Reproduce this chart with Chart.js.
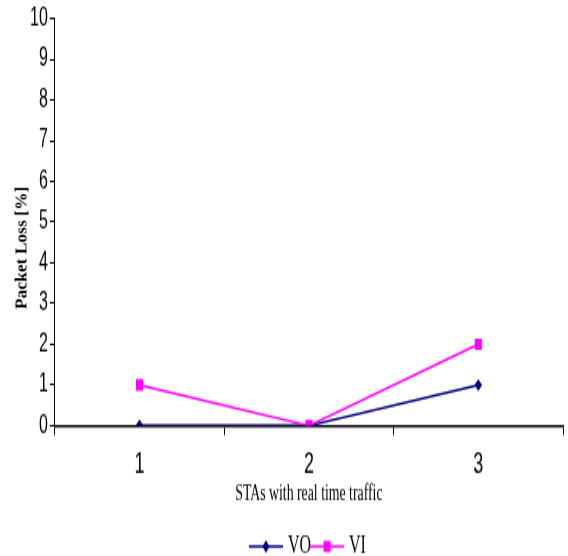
<!DOCTYPE html>
<html>
<head>
<meta charset="utf-8">
<script src="https://cdn.jsdelivr.net/npm/chart.js@4"></script>
<style>
body { margin: 0; background: #fff; }
#wrap { position: relative; width: 568px; height: 556px; overflow: hidden; }
/* the original figure is stretched vertically, so draw at a lower height and scale up */
#stretch { position: absolute; left: 0; top: 0; width: 568px; height: 348px; transform: scaleY(1.5977); transform-origin: 0 0; }
#ytitle { position: absolute; left: 21px; top: 248px; transform: translate(-50%, -50%) rotate(-90deg);
  font: bold 17.5px 'Liberation Serif', 'Times New Roman', serif; white-space: nowrap; color: #000; }
</style>
</head>
<body>
<div id="wrap">
  <div id="stretch"><canvas id="myChart"></canvas></div>
  <div id="ytitle">Packet Loss [%]</div>
</div>
<script>
const categories = ['1', '2', '3'];
const voValues = [0, 0, 1];
const viValues = [1, 0, 2];
const yMin = 0;
const yMax = 10;
const yStep = 1;

const navy = '#000080';
const magenta = '#FF00FF';

// little line + marker icons for the legend
function legendIcon(color, shape) {
    const c = document.createElement('canvas');
    c.width = 34;
    c.height = 12;
    const g = c.getContext('2d');
    g.strokeStyle = color;
    g.lineWidth = 1.5;
    g.beginPath();
    g.moveTo(0, 6);
    g.lineTo(34, 6);
    g.stroke();
    g.fillStyle = color;
    if (shape == 'diamond') {
        g.beginPath();
        g.moveTo(17, 2);
        g.lineTo(20.5, 6);
        g.lineTo(17, 10);
        g.lineTo(13.5, 6);
        g.closePath();
        g.fill();
    } else {
        g.fillRect(13.5, 2.5, 7, 7);
    }
    return c;
}

const ctx = document.getElementById('myChart');
new Chart(ctx, {
    type: 'line',
    data: {
        labels: categories,
        datasets: [
            {
                label: 'VO',
                data: voValues,
                borderColor: navy,
                backgroundColor: navy,
                borderWidth: 1.5,
                pointStyle: 'rectRot',
                pointRadius: 3.75,
                pointBorderWidth: 0,
                tension: 0,
                order: 0
            },
            {
                label: 'VI',
                data: viValues,
                borderColor: magenta,
                backgroundColor: magenta,
                borderWidth: 1.5,
                pointStyle: 'rect',
                pointRadius: 5,
                pointBorderWidth: 0,
                tension: 0,
                order: -1
            }
        ]
    },
    options: {
        responsive: true,
        maintainAspectRatio: false,
        animation: false,
        layout: {
            padding: { left: 28, right: 5, top: 4, bottom: -12 }
        },
        scales: {
            x: {
                offset: true,
                grid: {
                    display: true,
                    drawOnChartArea: false,
                    offset: true,
                    color: '#000',
                    tickLength: 6
                },
                border: { color: '#000', width: 1.5 },
                ticks: {
                    color: '#000',
                    padding: 9.35,
                    font: { family: "'Liberation Sans', Arial, sans-serif", size: 18, lineHeight: 1 }
                },
                title: {
                    display: true,
                    text: 'STAs with real time traffic',
                    color: '#000',
                    padding: { top: -7.25, bottom: 15 },
                    font: { family: "'Liberation Serif', 'Times New Roman', serif", size: 13.8, lineHeight: 1.1 }
                }
            },
            y: {
                min: yMin,
                max: yMax,
                grid: {
                    display: true,
                    drawOnChartArea: false,
                    color: '#000',
                    tickLength: 5
                },
                border: { color: '#000', width: 1 },
                ticks: {
                    stepSize: yStep,
                    color: '#000',
                    padding: 2,
                    font: { family: "'Liberation Sans', Arial, sans-serif", size: 16 }
                }
            }
        },
        plugins: {
            tooltip: { enabled: false },
            legend: {
                position: 'bottom',
                fullSize: false,
                labels: {
                    color: '#000',
                    usePointStyle: true,
                    pointStyleWidth: 28,
                    padding: 2,
                    font: { family: "'Liberation Serif', 'Times New Roman', serif", size: 16 },
                    generateLabels: () => [
                        { text: 'VO', pointStyle: legendIcon(navy, 'diamond'), fontColor: '#000', datasetIndex: 0, lineWidth: 0 },
                        { text: 'VI', pointStyle: legendIcon(magenta, 'square'), fontColor: '#000', datasetIndex: 1, lineWidth: 0 }
                    ]
                }
            }
        }
    }
});
</script>
</body>
</html>
